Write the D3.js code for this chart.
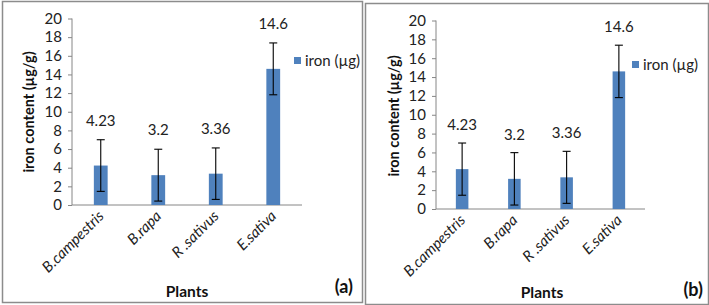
<!DOCTYPE html>
<html>
<head>
<meta charset="utf-8">
<script src="https://cdn.jsdelivr.net/npm/d3@7/dist/d3.min.js"></script>
<style>
  body { margin: 0; background: #fff; }
  svg { display: block; font-family: Lato, "Open Sans", sans-serif; }
</style>
</head>
<body>
<div id="chart-area"></div>
<script>
// data
const plants = ["B.campestris", "B.rapa", "R .sativus", "E.sativa"];
const iron = [4.23, 3.2, 3.36, 14.6];
const ironErr = [2.77, 2.78, 2.76, 2.78];
const yTicks = [0, 2, 4, 6, 8, 10, 12, 14, 16, 18, 20];
const seriesName = "iron (\u00b5g)";
const yTitle = "iron content (\u00b5g/g)";
const xTitle = "Plants";
const panelTags = ["(a)", "(b)"];

const W = 709, H = 305;
const barColor = "#4f81bd";
const axisColor = "#868686";

const svg = d3.select("#chart-area")
    .append("svg")
    .attr("width", W)
    .attr("height", H);

// layout of the two panels (pixel positions only)
const panels = [
    {frame: [2, 1, 360, 301], x: [72, 302], y: [205, 18.5], yTitleX: 29, yTitleY: 112,
     legend: [294, 57], plantsX: 187, plantsY: 297, tagX: 353, tagY: 293, labelGap: 40},
    {frame: [365, 3, 343, 301], x: [436, 645], y: [209, 20.5], yTitleX: 394, yTitleY: 116,
     legend: [632, 61], plantsX: 542, plantsY: 298, tagX: 703, tagY: 296, labelGap: 39}
];

panels.forEach((p, k) => {
    const g = svg.append("g");

    g.append("rect")
        .attr("x", p.frame[0] + 0.5)
        .attr("y", p.frame[1] + 0.5)
        .attr("width", p.frame[2])
        .attr("height", p.frame[3])
        .attr("fill", "none")
        .attr("stroke", "#8c8c8c")
        .attr("stroke-width", 1.5);

    const xScale = d3.scaleBand()
        .domain(plants)
        .range(p.x)
        .paddingInner(0.76)
        .paddingOuter(0.38);

    const yScale = d3.scaleLinear()
        .domain([0, 20])
        .range(p.y);

    // y axis
    const yAxis = d3.axisLeft(yScale)
        .tickValues(yTicks)
        .tickSize(4)
        .tickPadding(6);

    const yg = g.append("g")
        .attr("transform", `translate(${p.x[0]},0)`)
        .call(yAxis);
    yg.select(".domain").attr("stroke", axisColor).attr("d", `M0,${p.y[0]}V${p.y[1]}`);
    yg.selectAll(".tick line").attr("stroke", axisColor);
    yg.selectAll(".tick text")
        .attr("fill", "#222")
        .style("font-size", "15px")
        .style("font-family", "Lato, sans-serif");

    // x axis line
    g.append("line")
        .attr("x1", p.x[0])
        .attr("x2", p.x[1])
        .attr("y1", yScale(0))
        .attr("y2", yScale(0))
        .attr("stroke", axisColor);

    // bars
    g.selectAll(".bar")
        .data(plants)
        .enter()
        .append("rect")
        .attr("class", "bar")
        .attr("x", d => xScale(d))
        .attr("width", xScale.bandwidth())
        .attr("y", (d, i) => yScale(iron[i]))
        .attr("height", (d, i) => yScale(0) - yScale(iron[i]))
        .attr("fill", barColor);

    // error bars
    const cap = 4;
    const err = g.selectAll(".err")
        .data(plants)
        .enter()
        .append("g")
        .attr("class", "err")
        .attr("stroke", "#000")
        .attr("stroke-width", 1.1);
    const cx = d => xScale(d) + xScale.bandwidth() / 2;
    err.append("line")
        .attr("x1", cx).attr("x2", cx)
        .attr("y1", (d, i) => yScale(iron[i] + ironErr[i]))
        .attr("y2", (d, i) => yScale(iron[i] - ironErr[i]));
    err.append("line")
        .attr("x1", d => cx(d) - cap).attr("x2", d => cx(d) + cap)
        .attr("y1", (d, i) => yScale(iron[i] + ironErr[i]))
        .attr("y2", (d, i) => yScale(iron[i] + ironErr[i]));
    err.append("line")
        .attr("x1", d => cx(d) - cap).attr("x2", d => cx(d) + cap)
        .attr("y1", (d, i) => yScale(iron[i] - ironErr[i]))
        .attr("y2", (d, i) => yScale(iron[i] - ironErr[i]));

    // value labels
    g.selectAll(".val")
        .data(plants)
        .enter()
        .append("text")
        .attr("class", "val")
        .attr("x", cx)
        .attr("y", (d, i) => yScale(iron[i]) - p.labelGap)
        .attr("text-anchor", "middle")
        .attr("fill", "#222")
        .style("font-size", "15px")
        .text((d, i) => iron[i]);

    // category labels
    g.selectAll(".cat")
        .data(plants)
        .enter()
        .append("text")
        .attr("class", "cat")
        .attr("transform", d => `translate(${cx(d) + 4},${yScale(0) + 12}) rotate(-45)`)
        .attr("text-anchor", "end")
        .attr("fill", "#222")
        .style("font-size", "15px")
        .style("font-style", "italic")
        .text(d => d);

    // axis titles
    g.append("text")
        .attr("transform", `translate(${p.yTitleX},${p.yTitleY}) rotate(-90)`)
        .attr("text-anchor", "middle")
        .attr("dy", "0.35em")
        .attr("fill", "#111")
        .style("font-size", "14.5px")
        .style("font-weight", "bold")
        .text(yTitle);

    g.append("text")
        .attr("x", p.plantsX)
        .attr("y", p.plantsY)
        .attr("text-anchor", "middle")
        .attr("fill", "#111")
        .style("font-size", "15.5px")
        .style("font-weight", "bold")
        .text(xTitle);

    g.append("text")
        .attr("x", p.tagX)
        .attr("y", p.tagY)
        .attr("text-anchor", "end")
        .attr("fill", "#111")
        .style("font-size", "18px")
        .style("font-weight", "bold")
        .text(panelTags[k]);

    // legend
    const leg = g.append("g")
        .attr("transform", `translate(${p.legend[0]},${p.legend[1]})`);
    leg.append("rect")
        .attr("width", 7)
        .attr("height", 7)
        .attr("fill", barColor);
    leg.append("text")
        .attr("x", 11)
        .attr("y", 4)
        .attr("dy", "0.35em")
        .attr("fill", "#222")
        .style("font-size", "15px")
        .text(seriesName);
});
</script>
</body>
</html>
